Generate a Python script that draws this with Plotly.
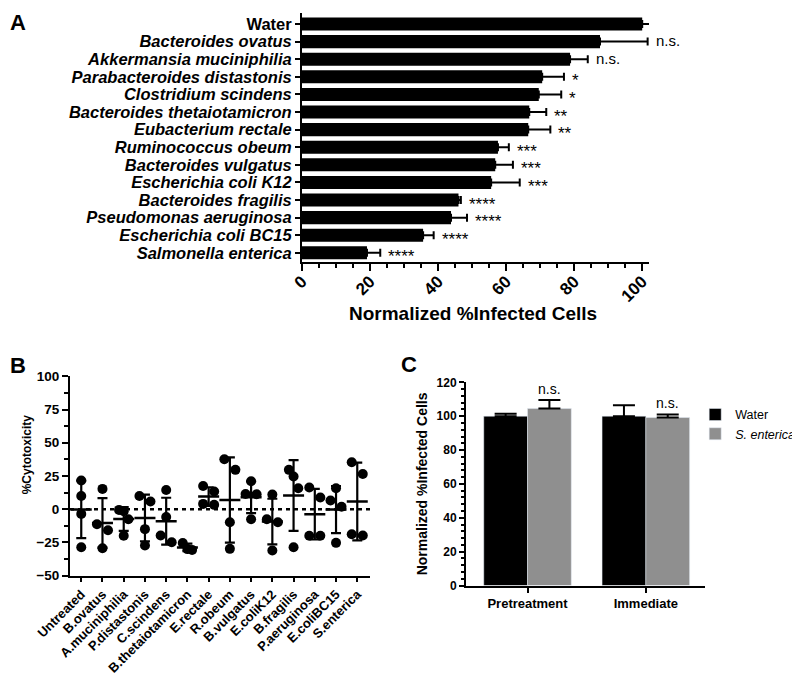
import numpy as np
import plotly.graph_objects as go

# ---------------- Panel A data ----------------
a_labels = ["Water", "Bacteroides ovatus", "Akkermansia muciniphilia",
            "Parabacteroides distastonis", "Clostridium scindens",
            "Bacteroides thetaiotamicron", "Eubacterium rectale",
            "Ruminococcus obeum", "Bacteroides vulgatus", "Escherichia coli K12",
            "Bacteroides fragilis", "Pseudomonas aeruginosa",
            "Escherichia coli BC15", "Salmonella enterica"]
a_values = [100, 87.6, 78.8, 70.6, 69.6, 66.8, 66.5, 57.6, 56.8, 55.6, 46.0, 43.8, 35.6, 19.1]
a_errors = [3.8, 14.0, 5.2, 6.4, 6.6, 5.0, 6.5, 3.2, 5.2, 8.4, 0.7, 4.7, 3.1, 3.9]
a_sig = ["", "n.s.", "n.s.", "*", "*", "**", "**", "***", "***", "***",
         "****", "****", "****", "****"]
a_ticks = [0, 20, 40, 60, 80, 100]

# ---------------- Panel B data ----------------
b_labels = ["Untreated", "B.ovatus", "A.muciniphilia", "P.distastonis", "C.scindens",
            "B.thetaiotamicron", "E.rectale", "R.obeum", "B.vulgatus", "E.coliK12",
            "B.fragilis", "P.aeruginosa", "E.coliBC15", "S.enterica"]
b_points = [
    [21.6, 10.0, -3.5, -28.6],
    [15.3, -11.3, -15.8, -29.3],
    [-0.5, -1.5, -7.5, -20.0],
    [10.0, 5.8, -15.0, -27.3],
    [14.5, -5.8, -19.8, -24.8],
    [-25.5, -30.0, -30.6],
    [17.5, 13.3, 4.0, 3.3],
    [37.6, 29.6, -9.8, -29.8],
    [21.0, 11.5, 11.3, -7.5],
    [11.0, -7.5, -9.8, -31.0],
    [29.6, 24.6, 15.8, -28.6],
    [16.3, 8.8, -20.0, -20.0],
    [15.8, 6.5, 1.8, -25.3],
    [35.3, 26.5, -18.8, -19.8],
]
b_ticks = [-50, -25, 0, 25, 50, 75, 100]

# ---------------- Panel C data ----------------
c_groups = ["Pretreatment", "Immediate"]
c_water = [100.0, 100.0]
c_water_err = [1.4, 6.5]
c_sent = [104.5, 99.2]
c_sent_err = [5.0, 1.8]
c_sig = ["n.s.", "n.s."]
c_ticks = [0, 20, 40, 60, 80, 100, 120]

FONT = "Arial, Liberation Sans, sans-serif"
BLACK = "#000000"
GRAY = "#8f8f8f"

fig = go.Figure()

# ---------- A ----------
fig.add_trace(go.Bar(
    x=a_values, y=a_labels, orientation="h",
    marker=dict(color=BLACK, line=dict(width=0)),
    error_x=dict(type="data", symmetric=False, array=a_errors,
                 arrayminus=[0] * len(a_errors), color=BLACK, thickness=2, width=4),
    xaxis="x", yaxis="y", showlegend=False))

annotations = []
for lab, v, e, s in zip(a_labels, a_values, a_errors, a_sig):
    if not s:
        continue
    star = s.startswith("*")
    annotations.append(dict(
        x=v + e, y=lab, xref="x", yref="y", text=s, showarrow=False,
        xanchor="left", xshift=6, yshift=-4 if star else 1,
        font=dict(family=FONT, size=17 if star else 15, color=BLACK)))

# ---------- B ----------
def jitter(vals, thr=9.2):
    order = sorted(range(len(vals)), key=lambda i: -vals[i])
    clusters, cur = [], [order[0]]
    for i in order[1:]:
        if vals[cur[-1]] - vals[i] < thr:
            cur.append(i)
        else:
            clusters.append(cur)
            cur = [i]
    clusters.append(cur)
    offs = [0.0] * len(vals)
    for cl in clusters:
        n = len(cl)
        if n == 1:
            continue
        step = 0.52 if n == 2 else 0.22
        for k, i in enumerate(cl):
            offs[i] = (k - (n - 1) / 2) * step
    return offs

px_, py_ = [], []
for gi, pts in enumerate(b_points):
    offs = jitter(pts)
    for p, o in zip(pts, offs):
        px_.append(gi + o)
        py_.append(p)

means = [float(np.mean(p)) for p in b_points]
sds = [float(np.std(p, ddof=1)) for p in b_points]

fig.add_trace(go.Scatter(
    x=px_, y=py_, mode="markers", xaxis="x2", yaxis="y2",
    marker=dict(color=BLACK, size=10), showlegend=False))
fig.add_trace(go.Scatter(
    x=list(range(len(b_labels))), y=means, mode="markers", xaxis="x2", yaxis="y2",
    marker=dict(symbol="line-ew-open", size=15, color=BLACK,
                line=dict(color=BLACK, width=2.5)),
    error_y=dict(type="data", array=sds, color=BLACK, thickness=2.2, width=5),
    showlegend=False))

# ---------- C ----------
fig.add_trace(go.Bar(
    x=c_groups, y=c_water, name="Water", marker=dict(color=BLACK),
    error_y=dict(type="data", symmetric=False, array=c_water_err,
                 arrayminus=[0, 0], color=BLACK, thickness=2, width=11),
    xaxis="x3", yaxis="y3", legendgroup="c"))
fig.add_trace(go.Bar(
    x=c_groups, y=c_sent, name="<i>S. enterica</i>", marker=dict(color=GRAY),
    error_y=dict(type="data", symmetric=False, array=c_sent_err,
                 arrayminus=[0, 0], color=BLACK, thickness=2, width=11),
    xaxis="x3", yaxis="y3", legendgroup="c"))

C_BARGAP = 0.26
for gi, (v, e, s) in enumerate(zip(c_sent, c_sent_err, c_sig)):
    annotations.append(dict(
        x=gi + (1 - C_BARGAP) / 4, y=v + e, xref="x3", yref="y3", text=s,
        showarrow=False, yanchor="bottom", yshift=1,
        font=dict(family=FONT, size=14, color=BLACK)))

# panel letters
for letter, x, y, ya in [("A", 0.0, 1.0, "top"), ("B", 0.0, 0.472, "middle"),
                         ("C", 0.489, 0.4735, "middle")]:
    annotations.append(dict(x=x, y=y, xref="paper", yref="paper", text="<b>%s</b>" % letter,
                            showarrow=False, xanchor="left", yanchor=ya,
                            font=dict(family=FONT, size=22, color=BLACK)))

# axis titles placed as paper annotations
annotations.append(dict(x=0.581, y=0.55, xref="paper", yref="paper",
                        text="<b>Normalized %Infected Cells</b>", showarrow=False,
                        xanchor="center", yanchor="middle",
                        font=dict(family=FONT, size=19, color=BLACK)))
annotations.append(dict(x=0.024, y=0.342, xref="paper", yref="paper",
                        text="<b>%Cytotoxicity</b>", showarrow=False, textangle=-90,
                        xanchor="center", yanchor="middle",
                        font=dict(family=FONT, size=12, color=BLACK)))

ax_common = dict(showgrid=False, zeroline=False, showline=True, linecolor=BLACK,
                 linewidth=2, ticks="outside", tickcolor=BLACK, tickwidth=2)

a_ticktext = ["<b>%s</b>" % l if l == "Water" else "<b><i>%s</i></b>" % l for l in a_labels]

fig.update_layout(
    width=800, height=678, margin=dict(l=0, r=0, t=0, b=0, autoexpand=False),
    plot_bgcolor="white", paper_bgcolor="white",
    font=dict(family=FONT, color=BLACK),
    barmode="group", bargap=C_BARGAP,
    annotations=annotations,
    xaxis=dict(domain=[0.3675, 0.80125], range=[0, 102], anchor="y",
               tickvals=a_ticks, tickangle=-45, ticklen=7, ticklabelstandoff=-6,
               tickfont=dict(size=17, family=FONT, weight="bold"),
               minor=dict(dtick=5, ticklen=4, tickwidth=2, tickcolor=BLACK, ticks="outside"),
               automargin=False, **ax_common),
    yaxis=dict(domain=[0.6254, 0.9926], anchor="x", type="category",
               categoryarray=a_labels, range=[13.52, -0.625],
               tickvals=a_labels, ticktext=a_ticktext, ticklen=5,
               tickfont=dict(size=16.5, family=FONT), automargin=False, **ax_common),
    xaxis2=dict(domain=[0.0775, 0.4525], anchor="y2", range=[-0.53, 13.6],
                tickvals=list(range(len(b_labels))), ticktext=["<b>%s</b>" % l for l in b_labels],
                tickangle=-45, ticklen=4, tickfont=dict(size=13, family=FONT),
                automargin=False, **ax_common),
    yaxis2=dict(domain=[0.1627, 0.4568], anchor="x2", range=[-50, 100],
                tickvals=b_ticks, ticklen=6,
                tickfont=dict(size=13.5, family=FONT, weight="bold"),
                minor=dict(dtick=12.5, ticklen=4, tickwidth=2, tickcolor=BLACK, ticks="outside"),
                automargin=False, **ax_common),
    xaxis3=dict(domain=[0.5725, 0.87125], anchor="y3", range=[-0.52, 1.5],
                type="category", ticktext=["<b>%s</b>" % g for g in c_groups],
                tickvals=c_groups, ticklen=5, tickfont=dict(size=13, family=FONT),
                automargin=False, **ax_common),
    yaxis3=dict(domain=[0.1482, 0.4479], anchor="x3", range=[0, 120],
                tickvals=c_ticks, ticklen=5,
                tickfont=dict(size=12, family=FONT, weight="bold"),
                minor=dict(dtick=4, ticklen=3, tickwidth=1.5, tickcolor=BLACK, ticks="outside"),
                title=dict(text="<b>Normalized %Infected Cells</b>", standoff=6,
                           font=dict(size=14, family=FONT)),
                automargin=False, **ax_common),
    legend=dict(x=0.859, y=0.422, xanchor="left", yanchor="top",
                font=dict(family=FONT, size=12.5, color=BLACK),
                bgcolor="rgba(0,0,0,0)", tracegroupgap=0),
    shapes=[dict(type="line", xref="x2 domain", yref="y2", x0=0, x1=1, y0=0, y1=0,
                 line=dict(color=BLACK, width=2.5, dash="4px,4px"), layer="below")],
)

fig.write_html("out.html")
